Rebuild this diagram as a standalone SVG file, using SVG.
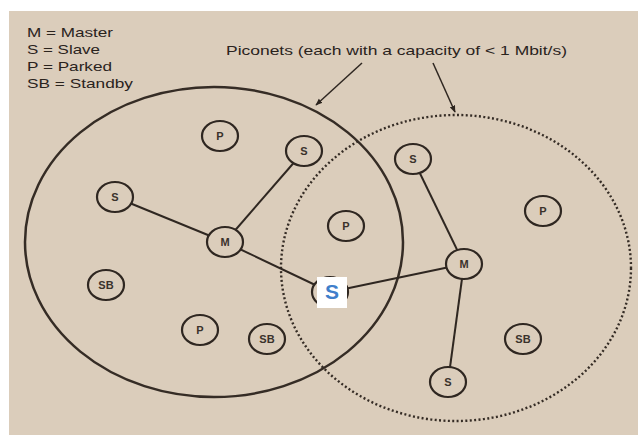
<svg xmlns="http://www.w3.org/2000/svg" width="638" height="435" viewBox="0 0 638 435">
  <defs>
    <marker id="arrowHead" viewBox="0 0 10 10" refX="9" refY="5" markerWidth="7" markerHeight="7" orient="auto" markerUnits="userSpaceOnUse">
      <path d="M0,1 L10,5 L0,9 Z" fill="#2c241e"/>
    </marker>
    <style>
      .legend { font-family: "Liberation Sans", Arial, sans-serif; font-size: 13px; fill: #2a231d; }
      .net-solid { fill: none; stroke: #352c25; stroke-width: 2.5; }
      .net-dotted { fill: none; stroke: #352c25; stroke-width: 2.4; stroke-dasharray: 2 2.4; }
      .node ellipse { fill: #dbcdbb; stroke: #2f2721; stroke-width: 2.2; }
      .node text { font-family: "Liberation Sans", Arial, sans-serif; font-size: 11px; font-weight: bold; fill: #3a322b; text-anchor: middle; }
      .link { stroke: #2f2721; stroke-width: 2; fill: none; }
      .pointer { stroke: #2f2721; stroke-width: 1.5; fill: none; marker-end: url(#arrowHead); }
    </style>
  </defs>

  <!-- paper -->
  <rect x="0" y="0" width="638" height="435" fill="#ffffff"/>
  <rect x="9" y="11" width="629" height="424" fill="#dbcdbb"/>

  <!-- legend -->
  <g id="legend">
    <text class="legend" x="27" y="37" textLength="86" lengthAdjust="spacingAndGlyphs">M = Master</text>
    <text class="legend" x="27" y="54" textLength="73" lengthAdjust="spacingAndGlyphs">S = Slave</text>
    <text class="legend" x="27" y="71" textLength="85" lengthAdjust="spacingAndGlyphs">P = Parked</text>
    <text class="legend" x="27" y="88" textLength="106" lengthAdjust="spacingAndGlyphs">SB = Standby</text>
  </g>

  <!-- piconet boundaries -->
  <g id="piconets">
    <ellipse id="piconet-left" class="net-solid" cx="214" cy="242" rx="189" ry="155"/>
    <ellipse id="piconet-right" class="net-dotted" cx="456" cy="268" rx="175" ry="153"/>
  </g>

  <!-- caption with pointers -->
  <g id="caption">
    <text class="legend" x="226" y="55" textLength="341" lengthAdjust="spacingAndGlyphs">Piconets (each with a capacity of &lt; 1 Mbit/s)</text>
    <line class="pointer" x1="362" y1="63" x2="316" y2="105"/>
    <line class="pointer" x1="433" y1="63" x2="455" y2="112"/>
  </g>

  <!-- links between devices -->
  <g id="connectors">
    <line class="link" x1="115" y1="197" x2="225" y2="242"/>
    <line class="link" x1="304" y1="151" x2="225" y2="242"/>
    <line class="link" x1="225" y1="242" x2="330" y2="292"/>
    <line class="link" x1="330" y1="292" x2="464" y2="264"/>
    <line class="link" x1="413" y1="159" x2="464" y2="264"/>
    <line class="link" x1="464" y1="264" x2="448" y2="382"/>
  </g>

  <!-- devices, left piconet -->
  <g id="left-p1" class="node"><ellipse cx="220" cy="136" rx="18" ry="15"/><text x="220" y="140">P</text></g>
  <g id="left-s1" class="node"><ellipse cx="304" cy="151" rx="18" ry="15"/><text x="304" y="155">S</text></g>
  <g id="left-s2" class="node"><ellipse cx="115" cy="197" rx="18" ry="15"/><text x="115" y="201">S</text></g>
  <g id="left-m" class="node"><ellipse cx="225" cy="242" rx="18" ry="15"/><text x="225" y="246">M</text></g>
  <g id="left-sb1" class="node"><ellipse cx="106" cy="285" rx="18" ry="15"/><text x="106" y="289">SB</text></g>
  <g id="left-p2" class="node"><ellipse cx="200" cy="330" rx="18" ry="15"/><text x="200" y="334">P</text></g>
  <g id="left-sb2" class="node"><ellipse cx="267" cy="339" rx="18" ry="15"/><text x="267" y="343">SB</text></g>
  <g id="shared-p" class="node"><ellipse cx="346" cy="226" rx="18" ry="15"/><text x="346" y="230">P</text></g>

  <!-- bridge slave, member of both piconets -->
  <g id="bridge-s" class="node">
    <ellipse cx="330" cy="292" rx="18" ry="15"/>
    <rect x="317" y="277" width="30" height="31" fill="#ffffff"/>
    <text x="332" y="299" style="font-size:21px;fill:#3f7fcb;">S</text>
  </g>

  <!-- devices, right piconet -->
  <g id="right-s1" class="node"><ellipse cx="413" cy="159" rx="18" ry="15"/><text x="413" y="163">S</text></g>
  <g id="right-p" class="node"><ellipse cx="543" cy="211" rx="18" ry="15"/><text x="543" y="215">P</text></g>
  <g id="right-m" class="node"><ellipse cx="464" cy="264" rx="18" ry="15"/><text x="464" y="268">M</text></g>
  <g id="right-sb" class="node"><ellipse cx="523" cy="339" rx="18" ry="15"/><text x="523" y="343">SB</text></g>
  <g id="right-s2" class="node"><ellipse cx="448" cy="382" rx="18" ry="15"/><text x="448" y="386">S</text></g>
</svg>
